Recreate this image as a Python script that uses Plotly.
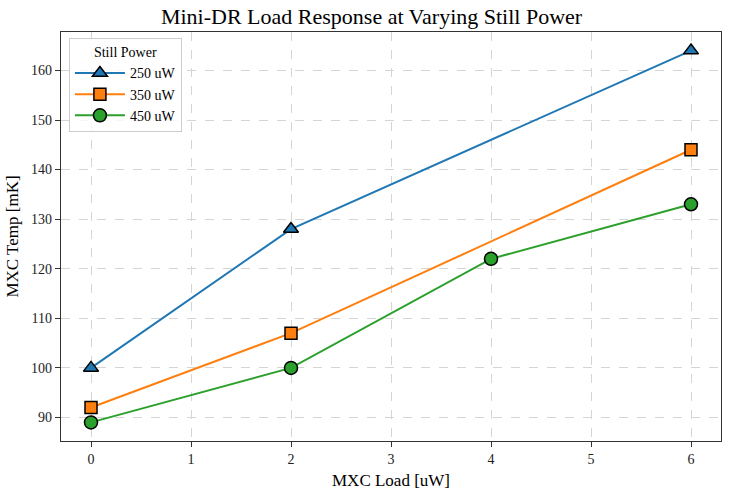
import plotly.graph_objects as go

load_250 = [0, 2, 6]
temp_250 = [100, 128, 164]
load_350 = [0, 2, 6]
temp_350 = [92, 107, 144]
load_450 = [0, 2, 4, 6]
temp_450 = [89, 100, 122, 133]

series = [
    ("250 uW", load_250, temp_250, "#1f77b4", "triangle-up", 13),
    ("350 uW", load_350, temp_350, "#ff7f0e", "square", 12),
    ("450 uW", load_450, temp_450, "#2ca02c", "circle", 13),
]

fig = go.Figure()
for name, x, y, c, sym, sz in series:
    fig.add_trace(go.Scatter(
        x=x, y=y, name=name, mode="lines+markers",
        line=dict(color=c, width=2),
        marker=dict(symbol=sym, size=sz, color=c, line=dict(color="black", width=1.5)),
    ))

font = "Liberation Serif"
fig.update_layout(
    width=730, height=495,
    margin=dict(l=61, r=8, t=32, b=52),
    paper_bgcolor="white", plot_bgcolor="white",
    font=dict(family=font, size=14, color="black"),
    title=dict(text="Mini-DR Load Response at Varying Still Power", x=0.509, xanchor="center",
               y=0.968, yanchor="middle", font=dict(size=22, family=font)),
    legend=dict(x=0.012, y=0.985, xanchor="left", yanchor="top",
                bgcolor="rgba(255,255,255,0.8)", bordercolor="#cccccc", borderwidth=1,
                title=dict(text="Still Power", side="top center", font=dict(size=14, family=font)),
                font=dict(size=14, family=font), itemwidth=50, tracegroupgap=0),
    showlegend=True,
)
axis_common = dict(
    showline=True, linecolor="#333", linewidth=1.2, mirror=True,
    ticks="outside", ticklen=5, tickcolor="#333",
    tickfont=dict(family=font, size=14, color="#222"),
    showgrid=True, gridcolor="#d5d5d5", griddash="dash", gridwidth=1, zeroline=False,
)
fig.update_xaxes(
    range=[-0.3, 6.3], tickmode="array", tickvals=[0, 1, 2, 3, 4, 5, 6],
    title=dict(text="MXC Load [uW]", font=dict(size=17, family=font), standoff=8),
    **axis_common,
)
fig.update_yaxes(
    range=[85.25, 167.75], tickmode="array", tickvals=[90, 100, 110, 120, 130, 140, 150, 160],
    title=dict(text="MXC Temp [mK]", font=dict(size=17, family=font), standoff=8),
    **axis_common,
)
fig.write_html("out.html")
